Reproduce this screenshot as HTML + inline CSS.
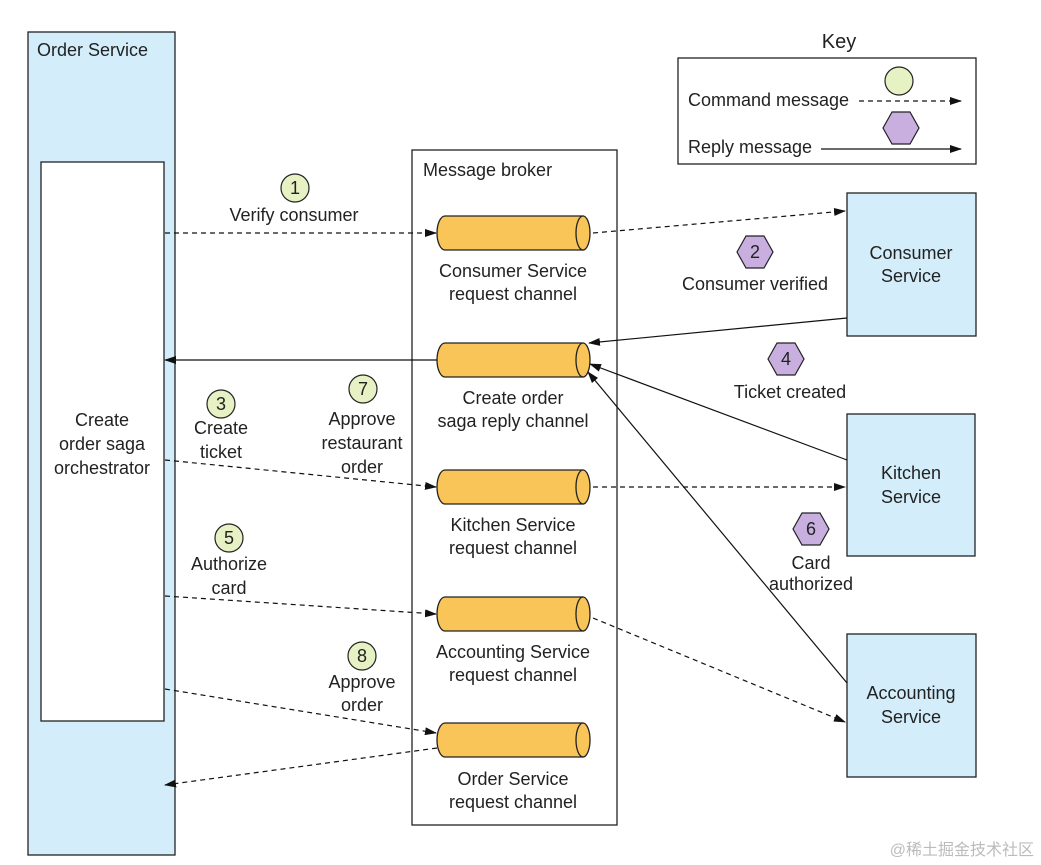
<!DOCTYPE html>
<html><head><meta charset="utf-8"><style>body{margin:0;background:#fff}svg{display:block}text{font-family:"Liberation Sans","Noto Sans CJK SC",sans-serif;font-size:18px;fill:#222}</style></head><body>
<svg width="1041" height="865" viewBox="0 0 1041 865">
<defs>
<marker id="a" markerWidth="12" markerHeight="8" refX="11" refY="4" orient="auto" markerUnits="userSpaceOnUse"><path d="M0,0L12,4L0,8z" fill="#111"/></marker>
<g id="cyl"><path d="M8,0H146V34H8A8,17 0 0 1 8,0z" fill="#f9c458" stroke="#222" stroke-width="1.3"/><ellipse cx="146" cy="17" rx="7" ry="17" fill="#f9c458" stroke="#222" stroke-width="1.3"/></g>
<polygon id="hx" points="-18,0 -9,-16 9,-16 18,0 9,16 -9,16" fill="#c9afe0" stroke="#222" stroke-width="1.2"/>
</defs>
<rect x="28" y="32" width="147" height="823" fill="#d3eefa" stroke="#222" stroke-width="1.3"/>
<rect x="41" y="162" width="123" height="559" fill="#fff" stroke="#222" stroke-width="1.3"/>
<text x="37" y="56">Order Service</text>
<text x="102" y="426" text-anchor="middle">Create</text>
<text x="102" y="450" text-anchor="middle">order saga</text>
<text x="102" y="474" text-anchor="middle">orchestrator</text>
<rect x="412" y="150" width="205" height="675" fill="#fff" stroke="#222" stroke-width="1.3"/>
<text x="423" y="176">Message broker</text>
<use href="#cyl" x="437" y="216"/><use href="#cyl" x="437" y="343"/><use href="#cyl" x="437" y="470"/><use href="#cyl" x="437" y="597"/><use href="#cyl" x="437" y="723"/>
<g text-anchor="middle">
<text x="513" y="277">Consumer Service</text><text x="513" y="300">request channel</text>
<text x="513" y="404">Create order</text><text x="513" y="427">saga reply channel</text>
<text x="513" y="531">Kitchen Service</text><text x="513" y="554">request channel</text>
<text x="513" y="658">Accounting Service</text><text x="513" y="681">request channel</text>
<text x="513" y="785">Order Service</text><text x="513" y="808">request channel</text>
</g>
<rect x="847" y="193" width="129" height="143" fill="#d3eefa" stroke="#222" stroke-width="1.3"/>
<rect x="847" y="414" width="128" height="142" fill="#d3eefa" stroke="#222" stroke-width="1.3"/>
<rect x="847" y="634" width="129" height="143" fill="#d3eefa" stroke="#222" stroke-width="1.3"/>
<g text-anchor="middle">
<text x="911" y="259">Consumer</text><text x="911" y="282">Service</text>
<text x="911" y="479">Kitchen</text><text x="911" y="503">Service</text>
<text x="911" y="699">Accounting</text><text x="911" y="723">Service</text>
</g>
<text x="839" y="48" text-anchor="middle" style="font-size:20px">Key</text>
<rect x="678" y="58" width="298" height="106" fill="#fff" stroke="#222" stroke-width="1.3"/>
<text x="688" y="106">Command message</text>
<text x="688" y="153">Reply message</text>
<circle cx="899" cy="81" r="14" fill="#e6f2c4" stroke="#222" stroke-width="1.2"/>
<use href="#hx" x="901" y="128"/>
<g fill="none" stroke="#111" stroke-width="1.2">
<line x1="859" y1="101" x2="961" y2="101" stroke-dasharray="5,4" marker-end="url(#a)"/>
<line x1="821" y1="149" x2="961" y2="149" marker-end="url(#a)"/>
<g stroke-dasharray="5,4">
<line x1="165" y1="233" x2="436" y2="233" marker-end="url(#a)"/>
<line x1="593" y1="233" x2="845" y2="211" marker-end="url(#a)"/>
<line x1="165" y1="460" x2="436" y2="487" marker-end="url(#a)"/>
<line x1="593" y1="487" x2="845" y2="487" marker-end="url(#a)"/>
<line x1="165" y1="596" x2="436" y2="614" marker-end="url(#a)"/>
<line x1="593" y1="618" x2="845" y2="722" marker-end="url(#a)"/>
<line x1="165" y1="689" x2="436" y2="733" marker-end="url(#a)"/>
<line x1="437" y1="748" x2="165" y2="785" marker-end="url(#a)"/>
</g>
<line x1="847" y1="318" x2="589" y2="343" marker-end="url(#a)"/>
<line x1="437" y1="360" x2="165" y2="360" marker-end="url(#a)"/>
<line x1="847" y1="460" x2="590" y2="364" marker-end="url(#a)"/>
<line x1="847" y1="683" x2="588" y2="372" marker-end="url(#a)"/>
</g>
<g stroke="#222" stroke-width="1.2" fill="#e6f2c4">
<circle cx="295" cy="188" r="14"/><circle cx="221" cy="404" r="14"/><circle cx="363" cy="389" r="14"/><circle cx="229" cy="538" r="14"/><circle cx="362" cy="656" r="14"/>
</g>
<use href="#hx" x="755" y="252"/><use href="#hx" x="786" y="359"/><use href="#hx" x="811" y="529"/>
<g text-anchor="middle">
<text x="295" y="194">1</text><text x="221" y="410">3</text><text x="363" y="395">7</text><text x="229" y="544">5</text><text x="362" y="662">8</text>
<text x="755" y="258">2</text><text x="786" y="365">4</text><text x="811" y="535">6</text>
<text x="294" y="221">Verify consumer</text>
<text x="755" y="290">Consumer verified</text>
<text x="790" y="398">Ticket created</text>
<text x="221" y="434">Create</text><text x="221" y="458">ticket</text>
<text x="362" y="425">Approve</text><text x="362" y="449">restaurant</text><text x="362" y="473">order</text>
<text x="229" y="570">Authorize</text><text x="229" y="594">card</text>
<text x="811" y="569">Card</text><text x="811" y="590">authorized</text>
<text x="362" y="688">Approve</text><text x="362" y="711">order</text>
</g>
<text x="1034" y="855" text-anchor="end" style="font-size:16px;fill:#bbb">@稀土掘金技术社区</text>
</svg>
</body></html>
